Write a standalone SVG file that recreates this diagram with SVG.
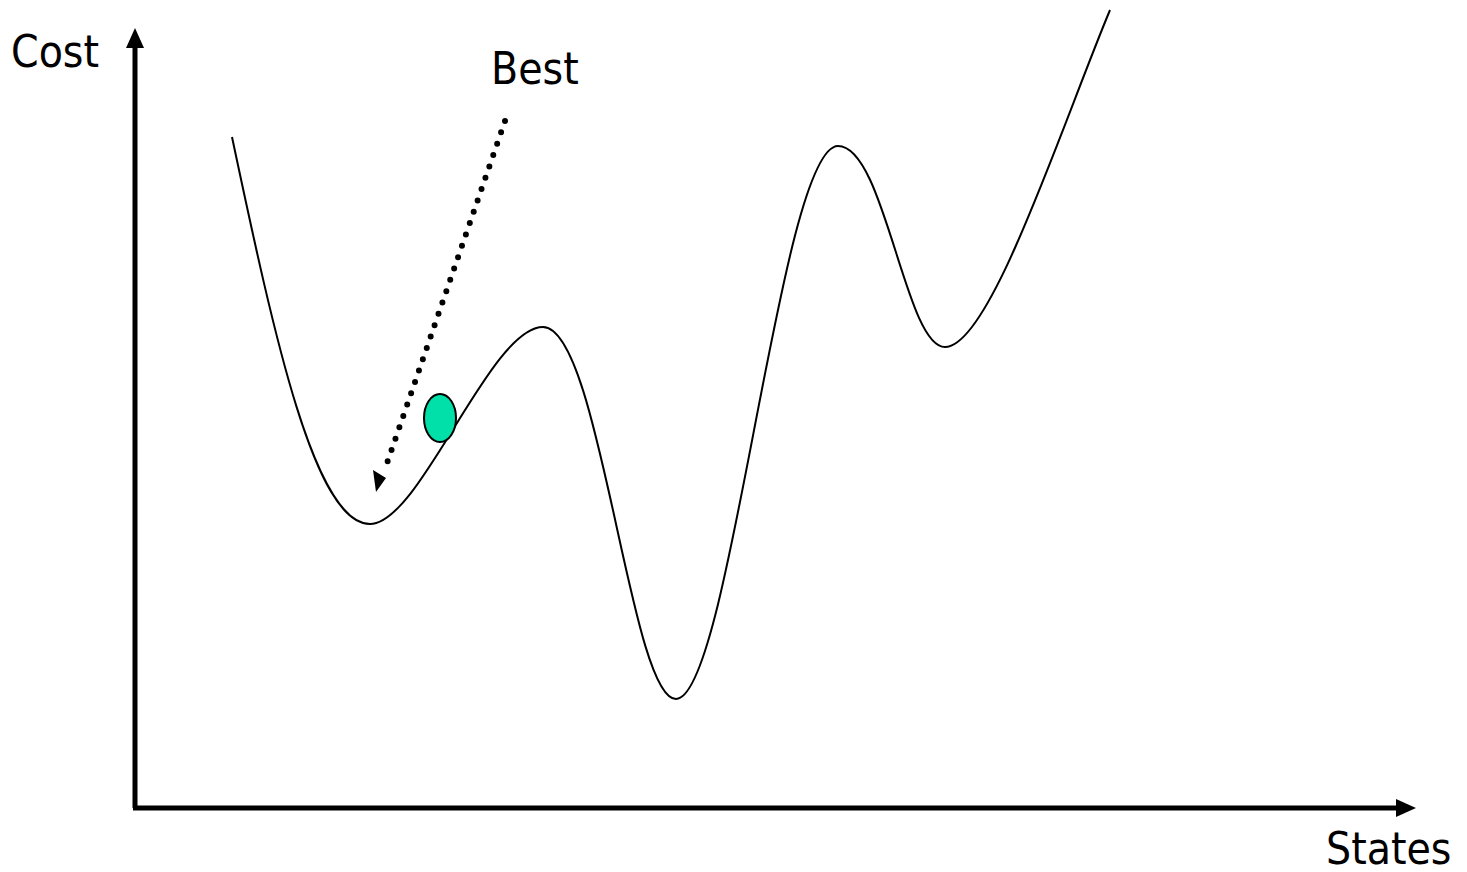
<svg xmlns="http://www.w3.org/2000/svg" width="1467" height="872" viewBox="0 0 1467 872">
<style>
.lbl{font-family:"DejaVu Sans Condensed","DejaVu Sans",Verdana,sans-serif;font-stretch:condensed;font-size:44px;fill:#000}
.axis{stroke:#000;stroke-width:5;fill:none}
.curve{stroke:#000;stroke-width:2;fill:none}
</style>
<rect width="1467" height="872" fill="#fff"/>
<g id="connectors">
<path class="axis" d="M135,808 V46"/>
<path d="M126,48 L135,28 L144,48 z" fill="#000"/>
<path class="axis" d="M133,808 H1398"/>
<path d="M1396,799 L1416,808 L1396,817 z" fill="#000"/>
<path d="M505,121 L385,469" stroke="#000" stroke-width="6" stroke-linecap="round" stroke-dasharray="0 12" fill="none"/>
<path d="M373,470 L386,478 L376,492 z" fill="#000"/>
</g>
<g id="curve">
<path class="curve" d="M232,137 C275,340 315,524 370,524 C420,524 490,327 543,327 C600,327 630,699 676,699 C730,699 780,146 838,146 C885,146 905,347 945,347 C990,347 1060,130 1110,10"/>
</g>
<g id="ball">
<ellipse cx="440" cy="418" rx="16" ry="24" fill="#00e0a8" stroke="#000" stroke-width="2"/>
</g>
<g id="labels">
<text class="lbl" x="11" y="67">Cost</text>
<text class="lbl" x="491" y="84">Best</text>
<text class="lbl" x="1326" y="864">States</text>
</g>
</svg>
